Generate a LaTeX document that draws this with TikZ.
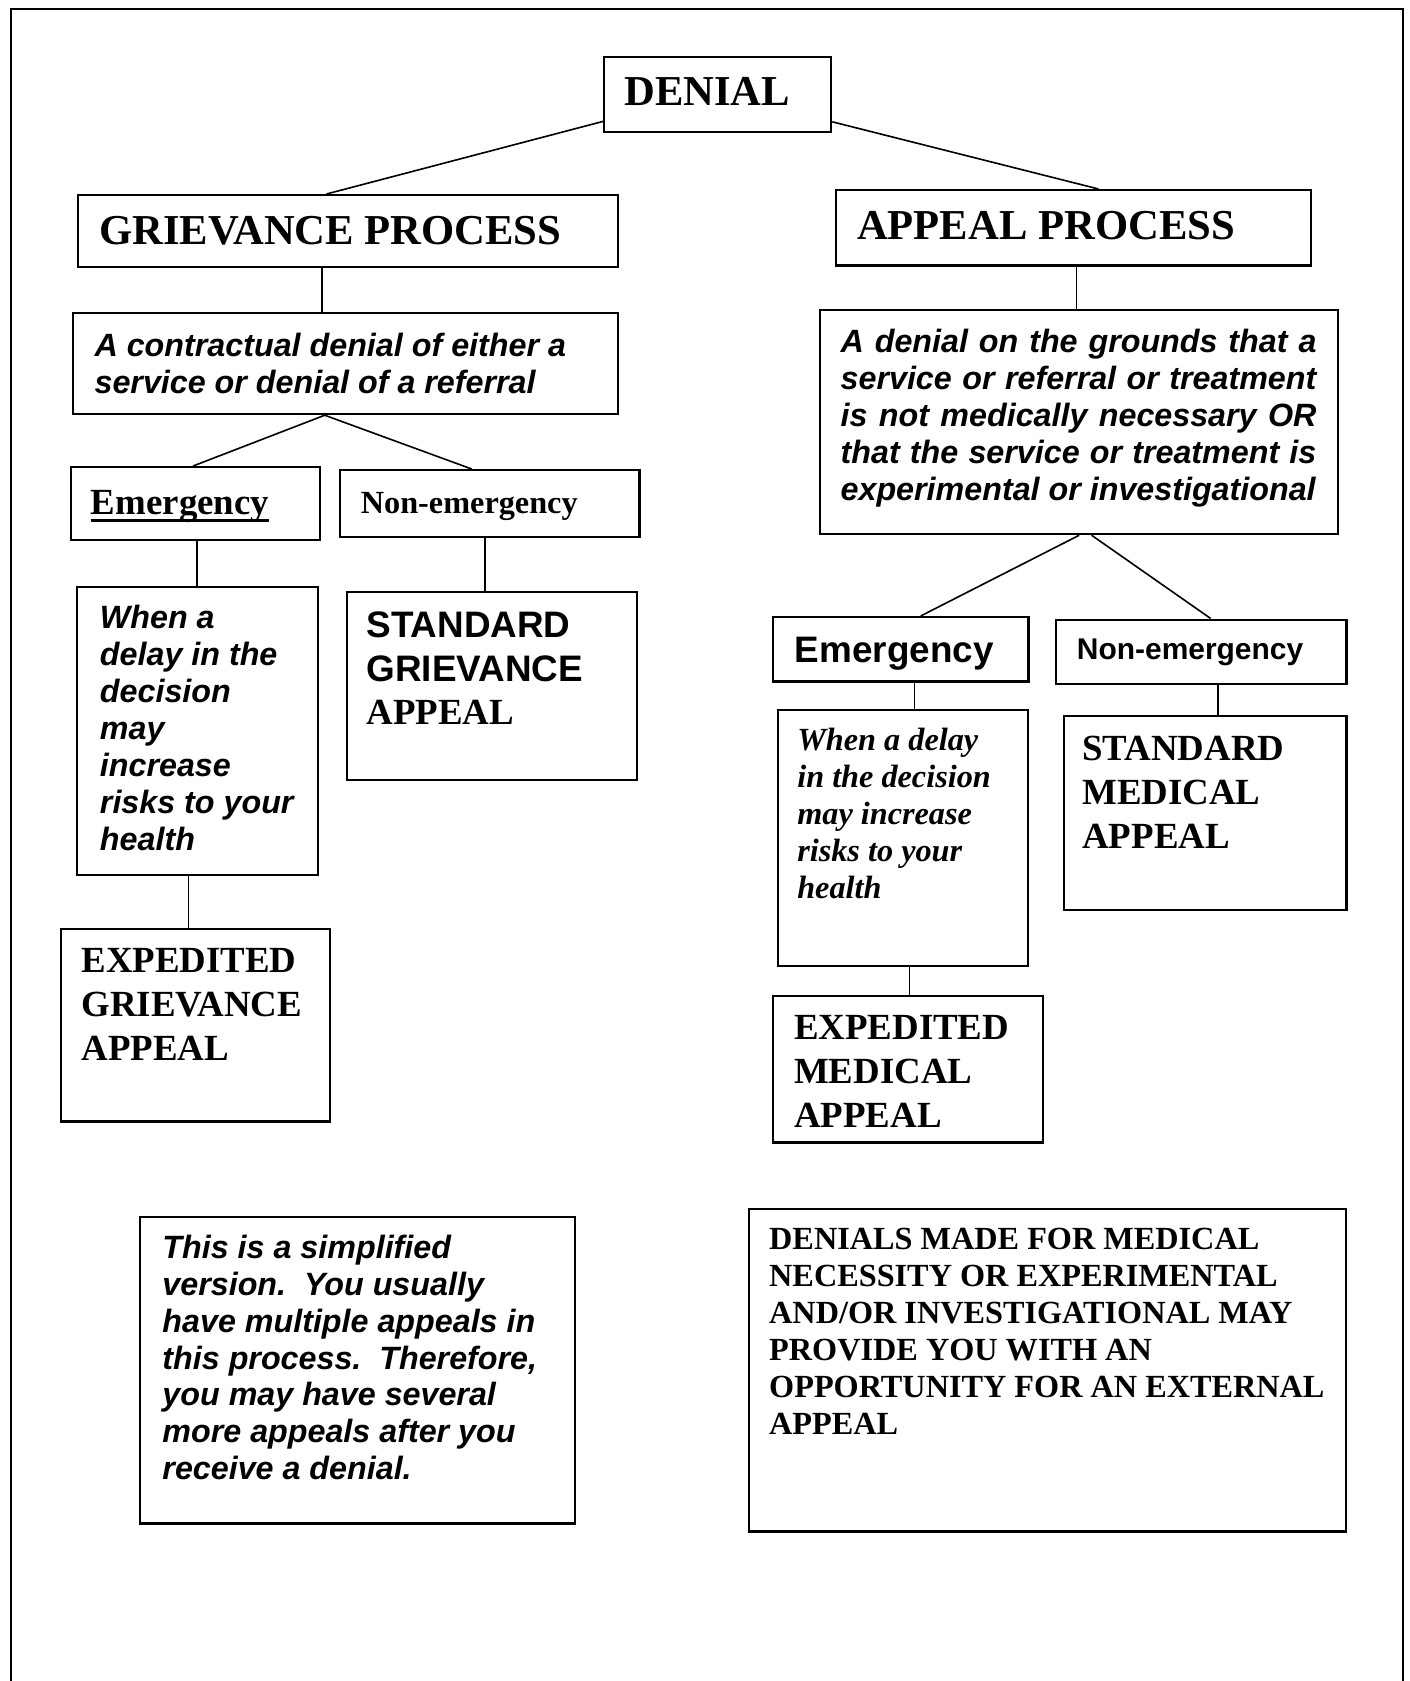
\documentclass[tikz,border=0pt]{standalone}
\usepackage{fontspec}
\setmainfont{Liberation Serif}
\setsansfont{Liberation Sans}
\usetikzlibrary{calc}

% underline that runs through the descenders
\newcommand{\ulword}[1]{\setbox0\hbox{#1}\rlap{\rule[-3.2pt]{\wd0}{1.2pt}}\box0}

\tikzset{
  box/.style={draw, line width=1pt, anchor=north west, inner sep=0pt},
  txt/.style={anchor=north west, inner sep=0pt, align=left},
  link/.style={line width=0.7pt},
  pageframe/.style={line width=0.8pt},
  headf/.style={font=\fontsize{18.5}{21}\selectfont\bfseries},
  notef/.style={font=\fontsize{14}{16}\selectfont\sffamily\bfseries\itshape},
  noteserif/.style={font=\fontsize{14}{16}\selectfont\bfseries\itshape},
  resf/.style={font=\fontsize{16}{19}\selectfont\bfseries},
  tagf/.style={font=\fontsize{16}{19}\selectfont\sffamily\bfseries},
  smallf/.style={font=\fontsize{14}{16}\selectfont\bfseries},
}

\begin{document}
\begin{tikzpicture}[x=0.434pt, y=-0.434pt]
\useasboundingbox (0,0) rectangle (1410,1681);
\draw[pageframe] (11,1681) -- (11,9) -- (1403,9) -- (1403,1681);

% top and the two processes
\node[box, minimum width=98.5pt, minimum height=32.6pt,
  label={[txt, headf, xshift=9.1pt, yshift=-9.1pt]north west:{DENIAL}}] (den) at (603,56) {};
\node[box, minimum width=234.4pt, minimum height=31.1pt,
  label={[txt, headf, xshift=9.4pt, yshift=-9.4pt]north west:{GRIEVANCE PROCESS}}] (grv) at (77,194) {};
\node[box, minimum width=206.2pt, minimum height=32.7pt,
  label={[txt, headf, xshift=9.4pt, yshift=-9.5pt]north west:{APPEAL PROCESS}}] (apl) at (835,189) {};

% descriptions
\node[box, minimum width=236.4pt, minimum height=43.8pt,
  label={[txt, notef, xshift=9.6pt, yshift=-9.1pt]north west:{A contractual denial of either a\\service or denial of a referral}}] (ctr) at (72,312) {};
\node[box, minimum width=224.8pt, minimum height=97.2pt,
  label={[txt, notef, text width=206.5pt, align=justify, xshift=9.2pt, yshift=-8.7pt]north west:{A denial on the grounds that a\linebreak service or referral or treatment\linebreak is not medically necessary OR\linebreak that the service or treatment is\linebreak experimental or investigational}}] (dsc) at (819,309) {};

% grievance side
\node[box, minimum width=108pt, minimum height=31.7pt,
  label={[txt, resf, xshift=8.9pt, yshift=-10.4pt]north west:{\ulword{Emergency}}}] (emgL) at (70,466) {};
\node[box, minimum width=129.9pt, minimum height=29.1pt,
  label={[txt, smallf, xshift=9.3pt, yshift=-10pt]north west:{Non-emergency}}] (nemL) at (339,469) {};
\node[box, minimum width=104.6pt, minimum height=125pt,
  label={[txt, notef, xshift=10.2pt, yshift=-8.3pt]north west:{When a\\delay in the\\decision\\may\\increase\\risks to your\\health}}] (whnL) at (76,586) {};
\node[box, minimum width=125.9pt, minimum height=81.4pt,
  label={[txt, resf, xshift=8.7pt, yshift=-8.7pt]north west:{{\sffamily STANDARD}\\{\sffamily GRIEVANCE}\\APPEAL}}] (stdG) at (346,591) {};
\node[box, minimum width=116.7pt, minimum height=83.5pt,
  label={[txt, resf, xshift=9.1pt, yshift=-8.7pt]north west:{EXPEDITED\\GRIEVANCE\\APPEAL}}] (expG) at (60,928) {};

% appeal side
\node[box, minimum width=110.8pt, minimum height=27.9pt,
  label={[txt, tagf, xshift=9.7pt, yshift=-8.8pt]north west:{Emergency}}] (emgR) at (772,616) {};
\node[box, minimum width=126pt, minimum height=27.9pt,
  label={[txt, font=\fontsize{13}{15}\selectfont\sffamily\bfseries, xshift=9.3pt, yshift=-8.5pt]north west:{Non-emergency}}] (nemR) at (1055,618.5) {};
\node[box, minimum width=108.5pt, minimum height=111.1pt,
  label={[txt, noteserif, xshift=8.6pt, yshift=-8.2pt]north west:{When a delay\\in the decision\\may increase\\risks to your\\health}}] (whnR) at (777,709) {};
\node[box, minimum width=122.5pt, minimum height=84.4pt,
  label={[txt, resf, xshift=8.2pt, yshift=-9.1pt]north west:{STANDARD\\MEDICAL\\APPEAL}}] (stdM) at (1063,714.6) {};
\node[box, minimum width=117.1pt, minimum height=63.6pt,
  label={[txt, resf, xshift=9.4pt, yshift=-8.8pt]north west:{EXPEDITED\\MEDICAL\\APPEAL}}] (expM) at (772,994.7) {};

% notes at the bottom
\node[box, minimum width=188.9pt, minimum height=133pt,
  label={[txt, notef, xshift=10.2pt, yshift=-8.1pt]north west:{This is a simplified\\version.\ \ You usually\\have multiple appeals in\\this process.\ \ Therefore,\\you may have several\\more appeals after you\\receive a denial.}}] (simp) at (138.5,1216) {};
\node[box, minimum width=259.1pt, minimum height=140pt,
  label={[txt, smallf, xshift=9pt, yshift=-8.8pt]north west:{DENIALS MADE FOR MEDICAL\\NECESSITY OR EXPERIMENTAL\\AND/OR INVESTIGATIONAL MAY\\PROVIDE YOU WITH AN\\OPPORTUNITY FOR AN EXTERNAL\\APPEAL}}] (dnl) at (748,1207.6) {};

% connectors
\draw[link] ($(den.north west)!.845!(den.south west)$) -- ($(grv.north west)!.46!(grv.north east)$);
\draw[link] ($(den.north east)!.85!(den.south east)$) -- ($(apl.north west)!.552!(apl.north east)$);
\draw[link] ($(grv.south west)!.452!(grv.south east)$) coordinate (g1) -- (g1 |- ctr.north);
\draw[link] ($(apl.south west)!.506!(apl.south east)$) coordinate (a1) -- (a1 |- dsc.north);

\draw[link] ($(emgL.north west)!.49!(emgL.north east)$) -- ($(ctr.south west)!.462!(ctr.south east)$)
  -- ($(nemL.north west)!.44!(nemL.north east)$);
\draw[link] ($(emgL.south west)!.506!(emgL.south east)$) coordinate (g2) -- (g2 |- whnL.north);
\draw[link] ($(nemL.south west)!.485!(nemL.south east)$) coordinate (g3) -- (g3 |- stdG.north);
\draw[link] ($(whnL.south west)!.463!(whnL.south east)$) coordinate (g4) -- (g4 |- expG.north);

\draw[link] ($(dsc.south west)!.5!(dsc.south east)$) -- ($(emgR.north west)!.577!(emgR.north east)$);
\draw[link] ($(dsc.south west)!.524!(dsc.south east)$) -- ($(nemR.north west)!.532!(nemR.north east)$);
\draw[link] ($(emgR.south west)!.553!(emgR.south east)$) coordinate (a2) -- (a2 |- whnR.north);
\draw[link] ($(nemR.south west)!.557!(nemR.south east)$) coordinate (a3) -- (a3 |- stdM.north);
\draw[link] ($(whnR.south west)!.525!(whnR.south east)$) coordinate (a4) -- (a4 |- expM.north);
\end{tikzpicture}
\end{document}
